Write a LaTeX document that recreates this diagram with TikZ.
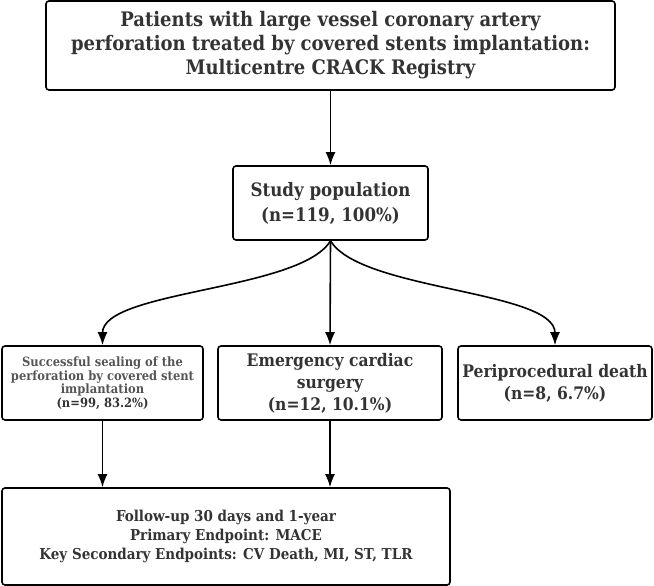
\documentclass[tikz,border=0pt]{standalone}
\usepackage{fontspec}
\setmainfont{DejaVu Serif Condensed}
\usetikzlibrary{arrows.meta}
\definecolor{txtgray}{HTML}{333333}
\definecolor{lightgray}{HTML}{555555}

\begin{document}
\begin{tikzpicture}[x=1pt,y=-1pt,
  box/.style={draw=black,line width=1.6pt,rounded corners=3pt,align=center,text=txtgray,inner sep=0pt},
  arr/.style={-{Latex[length=13pt,width=10pt]},line width=1.6pt}]
\useasboundingbox (0,0) rectangle (654,586);
% boxes
\node[box,minimum width=569pt,minimum height=89pt,font=\bfseries\fontsize{20}{24}\selectfont] (registry) at (330.5,45.5)
   {Patients with large vessel coronary artery\\perforation treated by covered stents implantation:\\Multicentre CRACK Registry};
\node[box,minimum width=195pt,minimum height=74pt,font=\bfseries\fontsize{18.5}{25}\selectfont] (study) at (330.5,203)
   {Study population\\(n=119, 100\%)};
\node[box,minimum width=201pt,minimum height=74pt,font=\bfseries\fontsize{12.8}{13.5}\selectfont] (sealing) at (102.5,383)
   {\textcolor{lightgray}{Successful sealing of the}\\\textcolor{lightgray}{perforation by covered stent}\\\textcolor{lightgray}{implantation}\\(n=99, 83.2\%)};
\node[box,minimum width=224pt,minimum height=74pt,font=\bfseries\fontsize{17.3}{22}\selectfont] (surgery) at (330,383)
   {Emergency cardiac\\surgery\\(n=12, 10.1\%)};
\node[box,minimum width=194pt,minimum height=74pt,font=\bfseries\fontsize{17.3}{22}\selectfont] (death) at (555,383)
   {Periprocedural death\\(n=8, 6.7\%)};
\node[box,minimum width=448pt,minimum height=97pt,font=\bfseries\fontsize{15}{19}\selectfont] (followup) at (226,536.5)
   {Follow-up 30 days and 1-year\\Primary Endpoint: MACE\\Key Secondary Endpoints: CV Death, MI, ST, TLR};
% connectors
\draw[arr] (registry) -- (study);
\draw[arr] (study.south) .. controls +(-30,50) and +(0,-55) .. (sealing.north);
\draw[arr] (study.south) -- (surgery.north);
\draw[arr] (study.south) .. controls +(30,50) and +(0,-55) .. (death.north);
\draw[arr] (sealing.south) -- (sealing.south |- followup.north);
\draw[arr] (surgery.south) -- (surgery.south |- followup.north);
\end{tikzpicture}
\end{document}
